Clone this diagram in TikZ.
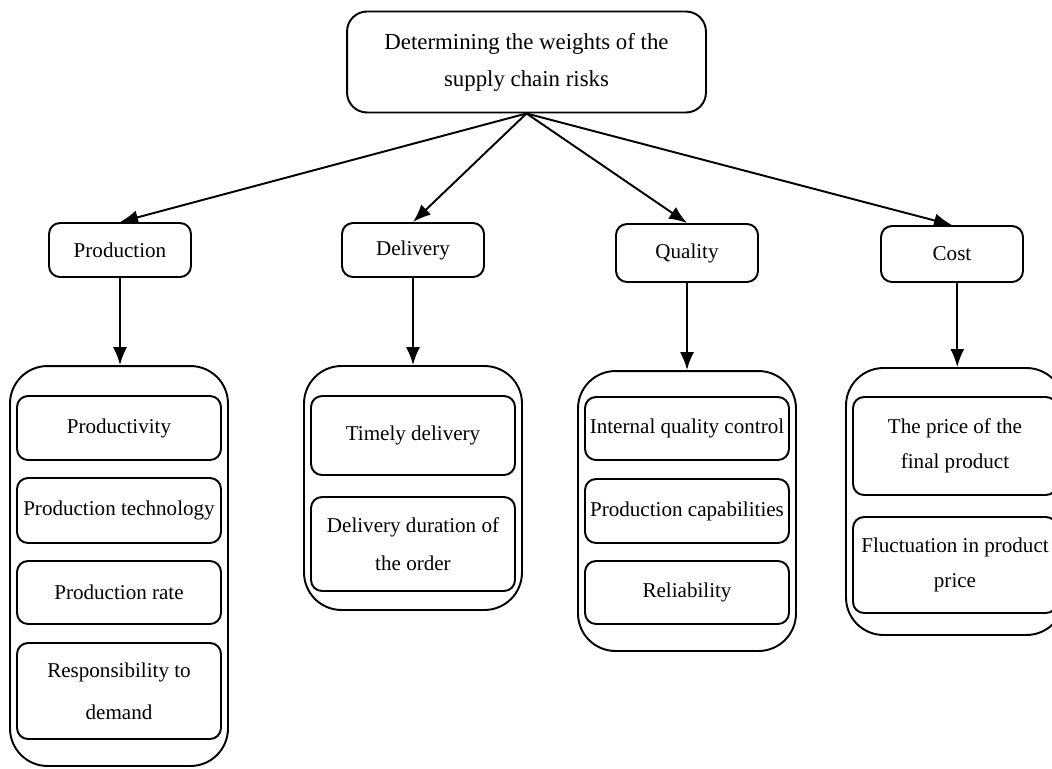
\documentclass[tikz,border=0pt]{standalone}
\usepackage{fontspec}
\setmainfont{Liberation Serif}
\usetikzlibrary{arrows.meta}

\tikzset{
  box/.style={draw, line width=1.1pt, rounded corners=0.22cm, align=center,
    font=\fontsize{12}{20}\selectfont, inner sep=0pt},
  group/.style={draw, line width=1.1pt, rounded corners=0.75cm, minimum width=4.36cm},
  item/.style={box, minimum width=4.08cm},
  arr/.style={line width=1.1pt, -{Latex[length=0.36cm, width=0.28cm]}},
}

\begin{document}
\begin{tikzpicture}[x=0.02cm, y=-0.02cm]
  \useasboundingbox (0,0) rectangle (1052,768);
  \node[box, rounded corners=0.4cm, minimum width=7.18cm, minimum height=2.02cm,
    font=\fontsize{13}{21}\selectfont] (risk) at (526.5,62)
    {Determining the weights of the\\supply chain risks};
  \node[box, minimum width=2.84cm, minimum height=1.08cm] (prod) at (120,250) {Production};
  \node[box, minimum width=2.84cm, minimum height=1.08cm] (deliv) at (413,250) {Delivery};
  \node[box, minimum width=2.84cm, minimum height=1.16cm] (qual) at (687,253) {Quality};
  \node[box, minimum width=2.84cm, minimum height=1.12cm] (cost) at (952,254) {Cost};

  % groups of sub-criteria
  \node[group, minimum height=8cm] (gprod) at (119,566) {};
  \node[group, minimum height=4.88cm] (gdeliv) at (413,488) {};
  \node[group, minimum height=5.6cm] (gqual) at (687,511) {};
  \node[group, minimum height=5.34cm] (gcost) at (955,501.5) {};

  \node[item, minimum height=1.28cm] (p1) at (119,428) {Productivity};
  \node[item, minimum height=1.3cm] (p2) at (119,510.5) {Production technology};
  \node[item, minimum height=1.26cm] (p3) at (119,592.5) {Production rate};
  \node[item, minimum height=1.92cm, font=\fontsize{12}{24}\selectfont] (p4) at (119,691)
    {Responsibility to\\demand};

  \node[item, minimum height=1.58cm] (d1) at (413,435.5) {Timely delivery};
  \node[item, minimum height=1.88cm, font=\fontsize{12}{22}\selectfont] (d2) at (413,544)
    {Delivery duration of\\the order};

  \node[item, minimum height=1.26cm] (q1) at (687,428.5) {Internal quality control};
  \node[item, minimum height=1.28cm] (q2) at (687,511) {Production capabilities};
  \node[item, minimum height=1.26cm] (q3) at (687,592.5) {Reliability};

  \node[item, minimum height=1.96cm] (c1) at (955,446) {The price of the\\final product};
  \node[item, minimum height=1.92cm] (c2) at (955,565) {Fluctuation in product\\price};

  \draw[arr] (risk.south) -- (prod.north);
  \draw[arr] (risk.south) -- (deliv.north);
  \draw[arr] (risk.south) -- (qual.north);
  \draw[arr] (risk.south) -- (cost.north);
  \draw[arr] (prod.south) -- (prod.south |- gprod.north);
  \draw[arr] (deliv.south) -- (gdeliv.north);
  \draw[arr] (qual.south) -- (gqual.north);
  \draw[arr] ([xshift=3pt]cost.south) -- ([xshift=3pt]cost.south |- gcost.north);
\end{tikzpicture}
\end{document}
